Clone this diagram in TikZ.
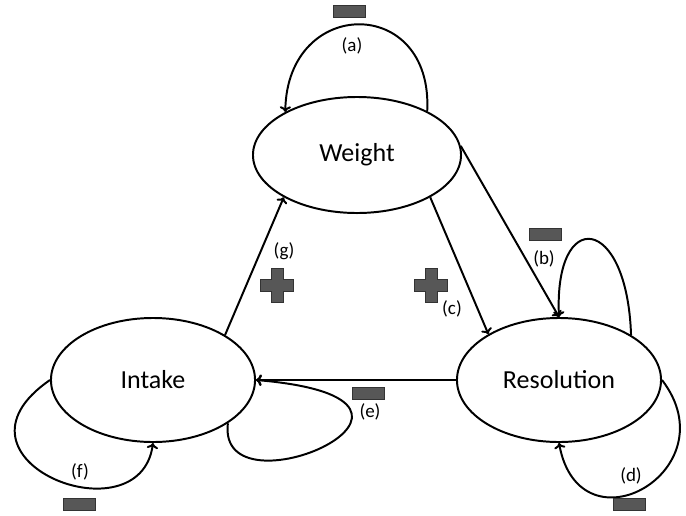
\documentclass[tikz,border=0pt]{standalone}
\usepackage{fontspec}
\setmainfont{Carlito}
\usepackage{xcolor}
\usepackage{tikz}
\usetikzlibrary{shapes,arrows,arrows.meta,calc}

\definecolor{signgray}{HTML}{575757}
\definecolor{signedge}{HTML}{333333}

\tikzset{
  state/.style={draw, ellipse, line width=1.4pt, minimum width=5.2cm, minimum height=3.1cm, font=\fontsize{18.5}{20}\selectfont},
  tag/.style={font=\fontsize{13.5}{15}\selectfont},
  link/.style={-{To[length=4pt,width=8pt]}, line width=1.4pt},
  minussign/.style={draw=signedge, fill=signgray, rectangle, line width=0.6pt, minimum width=0.8cm, minimum height=0.3cm, inner sep=0pt},
  plussign/.pic={
    \draw[draw=signedge, fill=signgray, line width=0.6pt]
      (-6,-17) -- (6,-17) -- (6,-6) -- (16.5,-6) -- (16.5,6) -- (6,6) -- (6,17)
      -- (-6,17) -- (-6,6) -- (-16.5,6) -- (-16.5,-6) -- (-6,-6) -- cycle;
  }
}

\begin{document}
\begin{tikzpicture}[x=0.025cm, y=-0.025cm, every node/.style={font=\fontsize{13}{15}\selectfont}]
  \useasboundingbox (0,0) rectangle (686,515);

\node (weight) at (357,155) [state, minimum width=5.2cm, minimum height=2.9cm] {Weight};
\node (intake) at (153,380) [state, minimum width=5.1cm] {Intake};
\node (res) at (559,380) [state, minimum width=5.1cm] {Resolution};

  % arrows between the three states
  \draw[link] (weight.5) -- (res.north);
  \draw[link] (weight.-30) -- (res.147);
  \draw[link] (res.west) -- (intake.east);
  \draw[link] (intake.32) -- (weight.210);

  % self loops
  \draw[link] (weight.32) .. controls +(6,-116) and +(2,-116) .. (weight.149);
  \draw[link] (res.32) .. controls +(-4,-121) and +(-5,-110) .. (res.north);
  \draw[link] (res.east) .. controls +(69,90) and +(21,113) .. (res.south);
  \draw[link] (intake.-30) .. controls +(-12,97) and +(235,20) .. (intake.east);
  \draw[link] (intake.west) .. controls +(-116,80) and +(-13,98) .. (intake.south);

\node (la) at (352,46) [tag] {(a)};
\node (lb) at (544,259) [tag] {(b)};
\node (lc) at (452,309) [tag] {(c)};
\node (ld) at (631,476) [tag] {(d)};
\node (le) at (370,412) [tag] {(e)};
\node (lf) at (80,472) [tag] {(f)};
\node (lg) at (284,251) [tag] {(g)};

\node (ma) at (349,11) [minussign] {};
\node (mb) at (545,234) [minussign] {};
\node (md) at (629,504) [minussign] {};
\node (me) at (368,393) [minussign] {};
\node (mf) at (79,504) [minussign] {};

  \pic at (277,285) {plussign};
  \pic at (431,285) {plussign};
\end{tikzpicture}
\end{document}
